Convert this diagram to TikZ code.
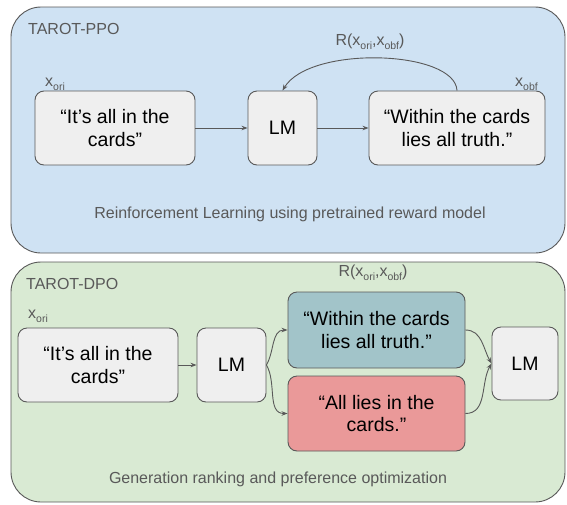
\documentclass[tikz,border=0pt]{standalone}
\usepackage{fontspec}
\setmainfont{Liberation Sans}
\usetikzlibrary{arrows.meta}
\definecolor{panelblue}{HTML}{CFE2F3}
\definecolor{panelgreen}{HTML}{D9EAD3}
\definecolor{boxgray}{HTML}{EFEFEF}
\definecolor{chosenteal}{HTML}{A2C4C9}
\definecolor{rejectrose}{HTML}{EA9999}
\definecolor{edgegray}{HTML}{595959}
\definecolor{labelgray}{HTML}{595959}
\newcommand{\subtxt}[1]{\raisebox{-4pt}{\fontsize{10.5}{10.5}\selectfont #1}}

\begin{document}
\begin{tikzpicture}[x=1pt,y=-1pt,
  panel/.style={draw=edgegray,line width=0.9pt,rounded corners=30pt},
  card/.style={draw=edgegray,line width=0.9pt,fill=boxgray,rounded corners=9pt,
    inner sep=0pt,align=center,text=black,font=\fontsize{19.5}{22.5}\selectfont},
  lbl/.style={text=labelgray,inner sep=0pt,font=\fontsize{16}{19}\selectfont},
  flow/.style={draw=edgegray,line width=0.9pt,-{Stealth[length=6pt,width=4.5pt]}}]
\useasboundingbox (0,0) rectangle (567,504);

% PPO panel
\draw[panel,fill=panelblue] (11,7) rectangle (565,253);
\node[lbl,anchor=base west] (ppo) at (28,34) {TAROT-PPO};
\node[lbl,anchor=base west] (xoriA) at (45,86) {x\subtxt{ori}};
\node[lbl,anchor=base west] (xobfA) at (515,86) {x\subtxt{obf}};
\node[lbl,anchor=base] (rewardA) at (370,45) {R(x\subtxt{ori},x\subtxt{obf})};
\node[card,minimum width=160pt,minimum height=74pt] (cardsA) at (115,128) {“It’s all in the\\cards”};
\node[card,minimum width=69pt,minimum height=74pt] (lmA) at (282.5,128) {LM};
\node[card,minimum width=176pt,minimum height=74pt] (truthA) at (457,128) {“Within the cards\\lies all truth.”};
\node[lbl,anchor=base] (rl) at (290,218) {Reinforcement Learning using pretrained reward model};

\draw[flow] (cardsA) -- (lmA);
\draw[flow] (lmA) -- (truthA);
\draw[flow] (truthA.north) .. controls (455,50) and (310,45) .. (lmA.north);

% DPO panel
\draw[panel,fill=panelgreen] (11,262) rectangle (565,502);
\node[lbl,anchor=base west] (dpo) at (26,289) {TAROT-DPO};
\node[lbl,anchor=base west] (xoriB) at (28,318) {x\subtxt{ori}};
\node[lbl,anchor=base] (rewardB) at (373,276) {R(x\subtxt{ori},x\subtxt{obf})};
\node[card,minimum width=160pt,minimum height=74pt] (cardsB) at (98,365) {“It’s all in the\\cards”};
\node[card,minimum width=69pt,minimum height=74pt] (lmB) at (231.5,365) {LM};
\node[card,fill=chosenteal,minimum width=177pt,minimum height=76pt] (truthB) at (376.5,330) {“Within the cards\\lies all truth.”};
\node[card,fill=rejectrose,minimum width=177pt,minimum height=75pt] (liesB) at (376.5,413.5) {“All lies in the\\cards.”};
\node[card,minimum width=66pt,minimum height=73pt] (lmC) at (525,363.5) {LM};
\node[lbl,anchor=base] (rank) at (278,483) {Generation ranking and preference optimization};

\draw[flow] (cardsB) -- (lmB);
\draw[flow] (lmB.east) to[out=60,in=180] (truthB.west);
\draw[flow] (lmB.east) to[out=-60,in=180] (liesB.west);
\draw[flow] (truthB.east) to[out=0,in=120] (lmC.west);
\draw[flow] (liesB.east) to[out=0,in=240] (lmC.west);
\end{tikzpicture}
\end{document}
